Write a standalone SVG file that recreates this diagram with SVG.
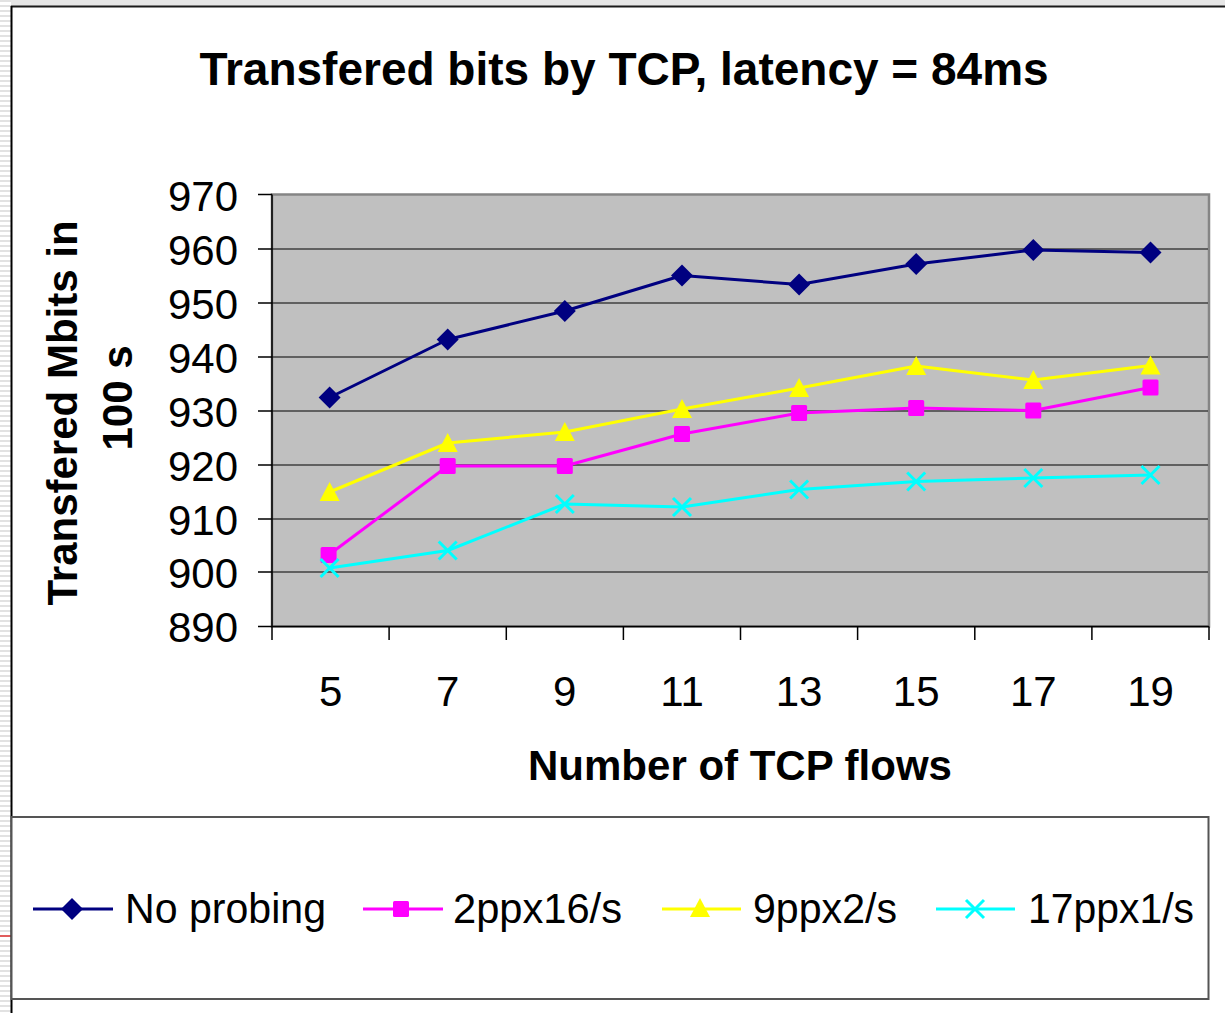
<svg xmlns="http://www.w3.org/2000/svg" width="1225" height="1013" viewBox="0 0 1225 1013">
<defs>
<pattern id="stripes" x="0" y="0" width="11" height="5" patternUnits="userSpaceOnUse">
<rect x="0" y="0" width="11" height="5" fill="#ffffff"/>
<rect x="0" y="0" width="11" height="2" fill="#e2e2e2"/>
</pattern>
<marker id="mDiamond" markerWidth="24" markerHeight="24" refX="12" refY="12" markerUnits="userSpaceOnUse">
<polygon points="12,1 23,12 12,23 1,12" fill="#000080"/>
</marker>
<marker id="mSquare" markerWidth="20" markerHeight="20" refX="10" refY="10" markerUnits="userSpaceOnUse">
<rect x="2" y="2" width="16" height="16" rx="1.5" fill="#ff00ff"/>
</marker>
<marker id="mTri" markerWidth="24" markerHeight="24" refX="12" refY="12" markerUnits="userSpaceOnUse">
<polygon points="12,2 22,21 2,21" fill="#ffff00"/>
</marker>
<marker id="mX" markerWidth="24" markerHeight="24" refX="12" refY="12" markerUnits="userSpaceOnUse">
<path d="M3,3 L21,21 M21,3 L3,21" stroke="#00ffff" stroke-width="3" fill="none"/>
</marker>
</defs>
<style>
.t{font-family:"Liberation Sans",Arial,sans-serif;fill:#000}
.tick{font-size:42px}
.ttl{font-size:46px;font-weight:bold}
.ax{font-size:42px;font-weight:bold}
.leg{font-size:43px}
.grid{stroke:#404040;stroke-width:1.5}
.axis{stroke:#000;stroke-width:1.5;fill:none}
.s{fill:none;stroke-width:3;stroke-linejoin:round}
</style>
<rect x="0" y="0" width="1225" height="1013" fill="#ffffff"/>
<rect x="0" y="0" width="11" height="1013" fill="url(#stripes)"/>
<rect x="11" y="0" width="1214" height="6" fill="#e6e6e6"/>
<line x1="0" y1="936" x2="11" y2="936" stroke="#e03030" stroke-width="1.5"/>
<g id="frame">
<line x1="11" y1="6.5" x2="1225" y2="6.5" stroke="#1a1a1a" stroke-width="2"/>
<line x1="11.5" y1="6" x2="11.5" y2="1013" stroke="#000" stroke-width="2"/>
</g>
<g id="title"><text class="t ttl" x="624" y="85" text-anchor="middle">Transfered bits by TCP, latency = 84ms</text></g>
<g id="plot-area">
<rect x="272" y="194.5" width="937" height="432" fill="#c0c0c0" stroke="#858585" stroke-width="2.5"/>
<g id="gridlines">
<line class="grid" x1="272" y1="249" x2="1208" y2="249"/>
<line class="grid" x1="272" y1="303" x2="1208" y2="303"/>
<line class="grid" x1="272" y1="357" x2="1208" y2="357"/>
<line class="grid" x1="272" y1="411" x2="1208" y2="411"/>
<line class="grid" x1="272" y1="465" x2="1208" y2="465"/>
<line class="grid" x1="272" y1="519" x2="1208" y2="519"/>
<line class="grid" x1="272" y1="572" x2="1208" y2="572"/>
</g>
</g>
<g id="y-axis">
<path class="axis" d="M272,194.5 V626.5 M258,194.5 H272 M258,249 H272 M258,303 H272 M258,357 H272 M258,411 H272 M258,465 H272 M258,519 H272 M258,572 H272 M258,626.5 H272"/>
<g class="t tick" text-anchor="end">
<text x="238" y="211">970</text>
<text x="238" y="265">960</text>
<text x="238" y="319">950</text>
<text x="238" y="373">940</text>
<text x="238" y="427">930</text>
<text x="238" y="481">920</text>
<text x="238" y="535">910</text>
<text x="238" y="588">900</text>
<text x="238" y="642">890</text>
</g>
<text class="t ax" transform="translate(77,413) rotate(-90)" text-anchor="middle">Transfered Mbits in</text>
<text class="t ax" transform="translate(132,398) rotate(-90)" text-anchor="middle">100 s</text>
</g>
<g id="x-axis">
<path class="axis" d="M272,626.5 H1209 M272,626.5 V640 M389.1,626.5 V640 M506.3,626.5 V640 M623.4,626.5 V640 M740.5,626.5 V640 M857.6,626.5 V640 M974.8,626.5 V640 M1091.9,626.5 V640 M1209,626.5 V640"/>
<g class="t tick" text-anchor="middle">
<text x="330.6" y="706">5</text>
<text x="447.7" y="706">7</text>
<text x="564.8" y="706">9</text>
<text x="682" y="706">11</text>
<text x="799.1" y="706">13</text>
<text x="916.2" y="706">15</text>
<text x="1033.3" y="706">17</text>
<text x="1150.5" y="706">19</text>
</g>
<text class="t ax" x="740" y="780" text-anchor="middle">Number of TCP flows</text>
</g>
<g id="connectors">
<polyline id="s-noprobing" class="s" stroke="#000080" marker-start="url(#mDiamond)" marker-mid="url(#mDiamond)" marker-end="url(#mDiamond)" points="329.6,397.5 447.7,339.5 564.8,311 682,275.5 799.1,284.5 916.2,264 1033.3,250 1150.5,252.5"/>
<polyline id="s-2ppx" class="s" stroke="#ff00ff" marker-start="url(#mSquare)" marker-mid="url(#mSquare)" marker-end="url(#mSquare)" points="328.6,555 447.7,466 564.8,466 682,434 799.1,413 916.2,408 1033.3,410.5 1150.5,387.5"/>
<polyline id="s-9ppx" class="s" stroke="#ffff00" marker-start="url(#mTri)" marker-mid="url(#mTri)" marker-end="url(#mTri)" points="329.6,492 447.7,443 564.8,432 682,409 799.1,388 916.2,366 1033.3,380 1150.5,365.5"/>
<polyline id="s-17ppx" class="s" stroke="#00ffff" marker-start="url(#mX)" marker-mid="url(#mX)" marker-end="url(#mX)" points="329.6,568 447.7,550.5 564.8,504 682,507 799.1,489.5 916.2,481.5 1033.3,478 1150.5,475"/>
</g>
<g id="legend">
<rect x="11.5" y="817" width="1197" height="182" fill="#ffffff" stroke="#555555" stroke-width="2"/>
<g id="leg-noprobing">
<line x1="33" y1="909" x2="113" y2="909" stroke="#000080" stroke-width="3"/>
<polygon points="72,898 83,909 72,920 61,909" fill="#000080"/>
<text class="t leg" x="125" y="923" textLength="201" lengthAdjust="spacingAndGlyphs">No probing</text>
</g>
<g id="leg-2ppx">
<line x1="363" y1="909" x2="443" y2="909" stroke="#ff00ff" stroke-width="3"/>
<rect x="393" y="901" width="16" height="16" rx="1.5" fill="#ff00ff"/>
<text class="t leg" x="453" y="923" textLength="169" lengthAdjust="spacingAndGlyphs">2ppx16/s</text>
</g>
<g id="leg-9ppx">
<line x1="662" y1="909" x2="741" y2="909" stroke="#ffff00" stroke-width="3"/>
<polygon points="700,898 710,917 690,917" fill="#ffff00"/>
<text class="t leg" x="753" y="923" textLength="144" lengthAdjust="spacingAndGlyphs">9ppx2/s</text>
</g>
<g id="leg-17ppx">
<line x1="936" y1="909" x2="1015" y2="909" stroke="#00ffff" stroke-width="3"/>
<path d="M966,900 L984,918 M984,900 L966,918" stroke="#00ffff" stroke-width="3"/>
<text class="t leg" x="1028" y="923" textLength="166" lengthAdjust="spacingAndGlyphs">17ppx1/s</text>
</g>
</g>
</svg>
